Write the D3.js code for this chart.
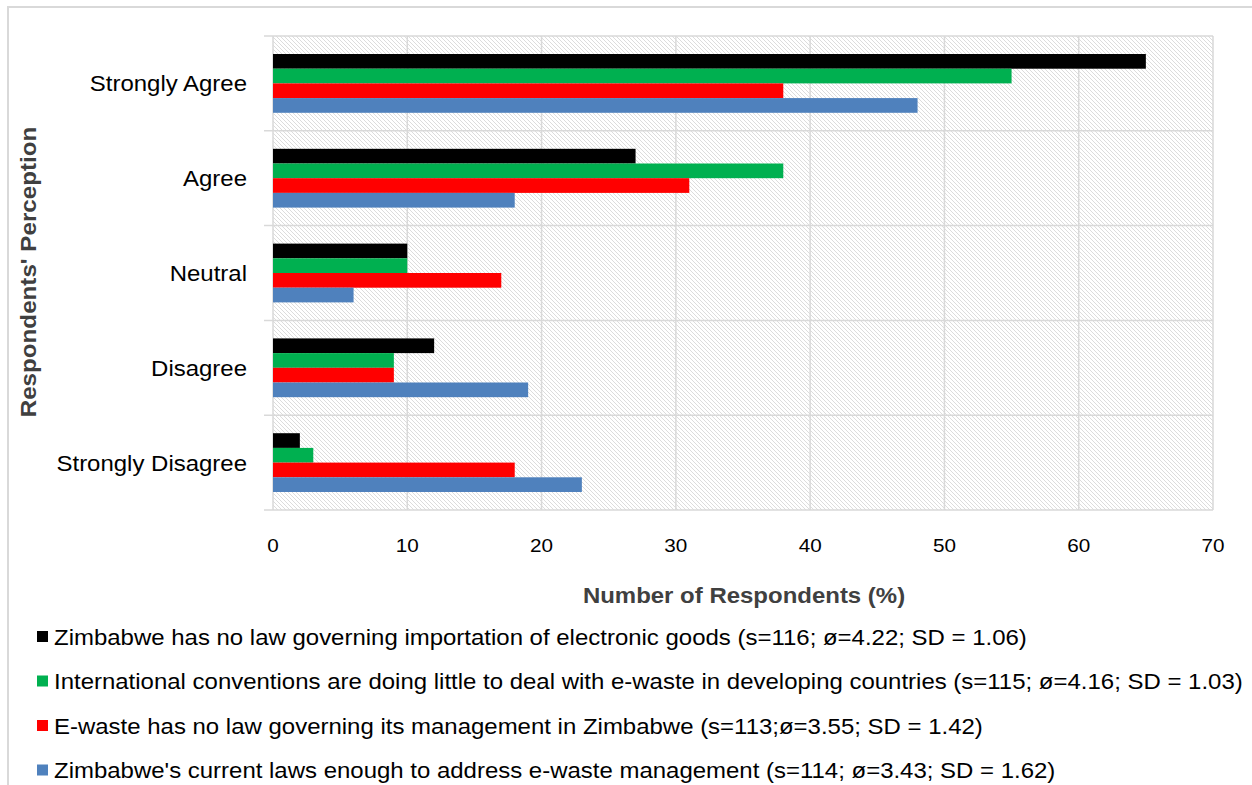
<!DOCTYPE html>
<html>
<head>
<meta charset="utf-8">
<script src="https://cdn.jsdelivr.net/npm/d3@7"></script>
<style>
  html, body { margin: 0; padding: 0; background: #fff; }
  svg { display: block; font-family: "Liberation Sans", Arial, sans-serif; }
</style>
</head>
<body>
<svg id="chart" width="1252" height="785"></svg>
<script>
// Perception categories, top to bottom
const categories = ["Strongly Agree", "Agree", "Neutral", "Disagree", "Strongly Disagree"];

// Statement series (percent of respondents per category)
const seriesNames = [
  "Zimbabwe has no law governing importation of electronic goods (s=116; ø=4.22; SD = 1.06)",
  "International conventions are doing little to deal with e-waste in developing countries (s=115; ø=4.16; SD = 1.03)",
  "E-waste has no law governing its management in Zimbabwe (s=113;ø=3.55; SD = 1.42)",
  "Zimbabwe's current laws enough to address e-waste management (s=114; ø=3.43; SD = 1.62)"
];
const noImportLaw       = [65, 27, 10, 12, 2];
const conventionsLittle = [55, 38, 10, 9, 3];
const noManagementLaw   = [38, 31, 17, 9, 18];
const currentLawsEnough = [48, 18, 6, 19, 23];
const seriesValues = [noImportLaw, conventionsLittle, noManagementLaw, currentLawsEnough];
const seriesColors = ["#000000", "#00b050", "#ff0000", "#4f81bd"];

const xTicks = [0, 10, 20, 30, 40, 50, 60, 70];

const svg = d3.select("#chart");
const plot = { left: 273, right: 1213, top: 36, bottom: 510 };
const gridColor = "#d9d9d9";
const textStretch = 1.09;   // slightly wide lettering

// Outer frame (left and top edges)
svg.append("path")
  .attr("d", "M8,785 L8,7 L1252,7")
  .attr("fill", "none").attr("stroke", gridColor).attr("stroke-width", 2);

// Diagonal hatch used for the plot background
const defs = svg.append("defs");
const pat = defs.append("pattern")
  .attr("id", "hatch").attr("patternUnits", "userSpaceOnUse")
  .attr("width", 4).attr("height", 4);
pat.append("rect").attr("width", 4).attr("height", 4).attr("fill", "#fff");
pat.append("path")
  .attr("d", "M-1,-1 L5,5 M3,-1 L5,1 M-1,3 L1,5")
  .attr("stroke", "#dcdcdc").attr("stroke-width", 1);

const x = d3.scaleLinear().domain([0, 70]).range([plot.left, plot.right]);
const y = d3.scaleBand().domain(categories)
  .range([plot.top, plot.bottom]).paddingInner(0.38).paddingOuter(0.19);
const ySub = d3.scaleBand().domain(d3.range(seriesValues.length))
  .range([0, y.bandwidth()]);

svg.append("rect")
  .attr("x", plot.left).attr("y", plot.top)
  .attr("width", plot.right - plot.left).attr("height", plot.bottom - plot.top)
  .attr("fill", "url(#hatch)");

// Vertical gridlines
svg.append("g").selectAll("line").data(xTicks).join("line")
  .attr("x1", d => x(d)).attr("x2", d => x(d))
  .attr("y1", plot.top).attr("y2", plot.bottom)
  .attr("stroke", gridColor).attr("stroke-width", 1.5);

// Horizontal category separators with small ticks left of the axis
const boundaries = categories.map((c, i) => plot.top + i * y.step());
boundaries.push(plot.bottom);
svg.append("g").selectAll("line").data(boundaries).join("line")
  .attr("x1", plot.left - 9).attr("x2", plot.right)
  .attr("y1", d => d).attr("y2", d => d)
  .attr("stroke", gridColor).attr("stroke-width", 1.5);

// Bars
const groups = svg.append("g").selectAll("g").data(categories).join("g")
  .attr("transform", c => `translate(0,${y(c)})`);
groups.selectAll("rect")
  .data((c, i) => seriesValues.map((vals, s) => ({ s, v: vals[i] })))
  .join("rect")
  .attr("x", x(0))
  .attr("y", d => ySub(d.s))
  .attr("width", d => x(d.v) - x(0))
  .attr("height", ySub.bandwidth())
  .attr("fill", d => seriesColors[d.s]);

// Category labels
svg.append("g").selectAll("text").data(categories).join("text")
  .attr("transform", c => `translate(247,${y(c) + y.bandwidth() / 2}) scale(${textStretch},1)`)
  .attr("dy", "0.36em").attr("text-anchor", "end")
  .attr("font-size", 22).attr("fill", "#000")
  .text(c => c);

// X tick labels
svg.append("g").selectAll("text").data(xTicks).join("text")
  .attr("transform", d => `translate(${x(d)},552) scale(${textStretch},1)`)
  .attr("text-anchor", "middle").attr("font-size", 19).attr("fill", "#000")
  .text(d => d);

// Axis titles
svg.append("text")
  .attr("transform", `translate(744,603) scale(${textStretch},1)`)
  .attr("text-anchor", "middle")
  .attr("font-size", 22).attr("font-weight", "bold").attr("fill", "#404040")
  .text("Number of Respondents (%)");

svg.append("text")
  .attr("transform", `translate(36,272) rotate(-90) scale(1.1,1)`)
  .attr("text-anchor", "middle")
  .attr("font-size", 22).attr("font-weight", "bold").attr("fill", "#404040")
  .text("Respondents' Perception");

// Legend
const legend = svg.append("g").selectAll("g").data(seriesNames).join("g")
  .attr("transform", (d, i) => `translate(37,${637 + i * 44.5})`);
legend.append("rect")
  .attr("x", 0).attr("y", -6).attr("width", 11).attr("height", 11)
  .attr("fill", (d, i) => seriesColors[i]);
legend.append("text")
  .attr("transform", `translate(17,0) scale(${textStretch},1)`)
  .attr("dy", "0.36em")
  .attr("font-size", 22).attr("fill", "#000")
  .text(d => d);
</script>
</body>
</html>
